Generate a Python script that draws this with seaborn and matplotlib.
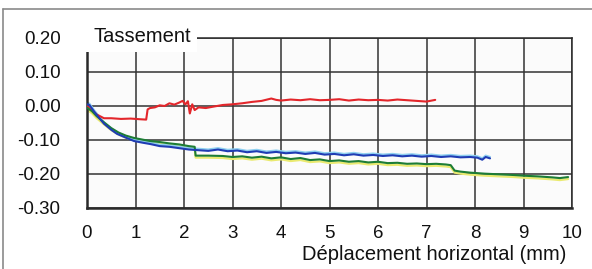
import numpy as np
import pandas as pd
import matplotlib
matplotlib.use("Agg")
import matplotlib.pyplot as plt
import matplotlib.transforms as mtransforms
from matplotlib.lines import Line2D
from matplotlib.patches import Rectangle
import seaborn as sns

# ---------------- data ----------------
red_x = [0.0, 0.1, 0.2, 0.35, 0.5, 0.7, 0.9, 1.1, 1.22, 1.25, 1.3, 1.4, 1.5, 1.6, 1.7, 1.8, 1.9,
         1.97, 2.03, 2.08, 2.12, 2.17, 2.22, 2.3, 2.45, 2.6, 2.8, 3.0, 3.2, 3.4, 3.6, 3.8, 3.9,
         4.0, 4.2, 4.4, 4.6, 4.8, 5.0, 5.2, 5.4, 5.6, 5.8, 6.0, 6.2, 6.4, 6.6, 6.8, 7.0, 7.18]
red_y = [0.000, -0.012, -0.025, -0.036, -0.036, -0.038, -0.037, -0.039, -0.040, -0.010, -0.006,
         -0.004, 0.002, 0.000, 0.008, 0.004, 0.010, 0.015, 0.005, 0.014, -0.022, 0.005, -0.012,
         -0.004, -0.006, -0.002, 0.003, 0.005, 0.008, 0.012, 0.015, 0.022, 0.018, 0.016, 0.019,
         0.017, 0.020, 0.017, 0.018, 0.020, 0.016, 0.019, 0.017, 0.018, 0.016, 0.019, 0.017,
         0.015, 0.013, 0.018]

blue_x = [0.0, 0.05, 0.15, 0.25, 0.35, 0.5, 0.62, 0.8, 0.97, 1.15, 1.31, 1.5, 1.7, 1.9, 2.1, 2.3,
          2.5, 2.7, 2.9, 3.1, 3.3, 3.5, 3.7, 3.9, 4.1, 4.3, 4.5, 4.7, 4.9, 5.1, 5.3, 5.5, 5.7,
          5.9, 6.1, 6.3, 6.5, 6.7, 6.9, 7.1, 7.3, 7.5, 7.7, 7.9, 8.05, 8.15, 8.22, 8.31]
blue_y = [0.005, 0.003, -0.017, -0.035, -0.052, -0.070, -0.082, -0.093, -0.103, -0.108, -0.112,
          -0.118, -0.120, -0.124, -0.128, -0.130, -0.132, -0.128, -0.133, -0.131, -0.136, -0.133,
          -0.138, -0.135, -0.139, -0.137, -0.141, -0.138, -0.143, -0.141, -0.145, -0.142, -0.146,
          -0.144, -0.147, -0.145, -0.148, -0.146, -0.149, -0.147, -0.150, -0.148, -0.151, -0.150,
          -0.152, -0.158, -0.150, -0.154]

green_x = [0.0, 0.1, 0.2, 0.35, 0.5, 0.65, 0.8, 0.97, 1.15, 1.3, 1.5, 1.7, 1.9, 2.1, 2.22, 2.24,
           2.5, 2.8, 3.0, 3.2, 3.4, 3.6, 3.8, 4.0, 4.2, 4.4, 4.6, 4.8, 5.0, 5.2, 5.4, 5.6, 5.8,
           6.0, 6.2, 6.4, 6.6, 6.8, 7.0, 7.2, 7.4, 7.5, 7.58, 7.7, 7.9, 8.2, 8.5, 8.8, 9.0, 9.3,
           9.6, 9.75, 9.92]
green_y = [-0.005, -0.015, -0.030, -0.048, -0.065, -0.078, -0.087, -0.094, -0.099, -0.103, -0.106,
           -0.110, -0.113, -0.118, -0.120, -0.146, -0.146, -0.147, -0.150, -0.148, -0.152, -0.149,
           -0.154, -0.151, -0.156, -0.153, -0.159, -0.157, -0.162, -0.160, -0.164, -0.162, -0.166,
           -0.164, -0.168, -0.167, -0.170, -0.169, -0.171, -0.170, -0.172, -0.174, -0.190, -0.193,
           -0.196, -0.199, -0.201, -0.203, -0.205, -0.207, -0.210, -0.212, -0.209]

x_ticks = [0, 1, 2, 3, 4, 5, 6, 7, 8, 9, 10]
y_ticks = [0.20, 0.10, 0.00, -0.10, -0.20, -0.30]
legend_text = "Tassement"
x_label = "Déplacement horizontal (mm)"

# ---------------- figure ----------------
sns.set_style("white")
plt.rcParams["font.family"] = ["Liberation Sans", "DejaVu Sans"]

W, H = 592, 269
fig = plt.figure(figsize=(W / 100, H / 100), dpi=100)
L, R, T, B = 87, 572, 38, 208
ax = fig.add_axes([L / W, 1 - B / H, (R - L) / W, (B - T) / H])
ax.set_facecolor("#fbfbfb")

# faint colour fringes of the scan
down = mtransforms.offset_copy(ax.transData, fig=fig, y=-2, units="dots")
up = mtransforms.offset_copy(ax.transData, fig=fig, y=1.5, units="dots")
sns.lineplot(x=green_x, y=green_y, ax=ax, color="#eaea70", lw=1.6, sort=False,
             estimator=None, transform=down, zorder=2)
sns.lineplot(x=blue_x, y=blue_y, ax=ax, color="#8fd0f0", lw=1.4, sort=False,
             estimator=None, transform=up, zorder=2)

sns.lineplot(x=red_x, y=red_y, ax=ax, color="#e3262b", lw=1.5, sort=False, estimator=None, zorder=3)
sns.lineplot(x=green_x, y=green_y, ax=ax, color="#1d7d35", lw=1.5, sort=False, estimator=None, zorder=3)
sns.lineplot(x=blue_x, y=blue_y, ax=ax, color="#1f3cb4", lw=1.5, sort=False, estimator=None, zorder=4)

ax.set_xlim(0, 10)
ax.set_ylim(-0.30, 0.20)
ax.set_xticks(x_ticks)
ax.set_xticklabels([str(t) for t in x_ticks])
ax.set_yticks(y_ticks)
ax.set_yticklabels([f"{t:.2f}" for t in y_ticks])
ax.grid(True, color="#333333", lw=1.1)
ax.set_axisbelow(True)
for side, sp in ax.spines.items():
    sp.set_color("#2a2a2a")
    sp.set_linewidth(1.1)
ax.spines["left"].set_linewidth(1.8)
ax.spines["bottom"].set_linewidth(1.8)
ax.tick_params(axis="both", labelsize=13.5, colors="#111111", direction="inout",
               length=6, width=1.1)
ax.tick_params(axis="y", pad=16)
ax.tick_params(axis="x", pad=9)
ax.set_xlabel("")
ax.set_ylabel("")

# legend-like title box
fig.patches.append(Rectangle((80 / W, 1 - 52 / H), 117 / W, 32 / H, transform=fig.transFigure,
                             facecolor="white", edgecolor="none", zorder=5))
fig.text(94 / W, 1 - 37 / H, legend_text, fontsize=14.5, va="center", ha="left",
         color="#111111", zorder=6)

# x label
fig.text(566 / W, 1 - 255 / H, x_label, fontsize=14.5, va="center", ha="right", color="#111111")

# scanned chart-area frame (top and left edges)
fig.lines.append(Line2D([3 / W, 1.0], [1 - 9 / H, 1 - 9 / H], transform=fig.transFigure,
                        color="#8a8a8a", lw=1.2))
fig.lines.append(Line2D([3 / W, 3 / W], [0.0, 1 - 9 / H], transform=fig.transFigure,
                        color="#8a8a8a", lw=1.2))

fig.savefig("out.png", dpi=100, facecolor="white")
